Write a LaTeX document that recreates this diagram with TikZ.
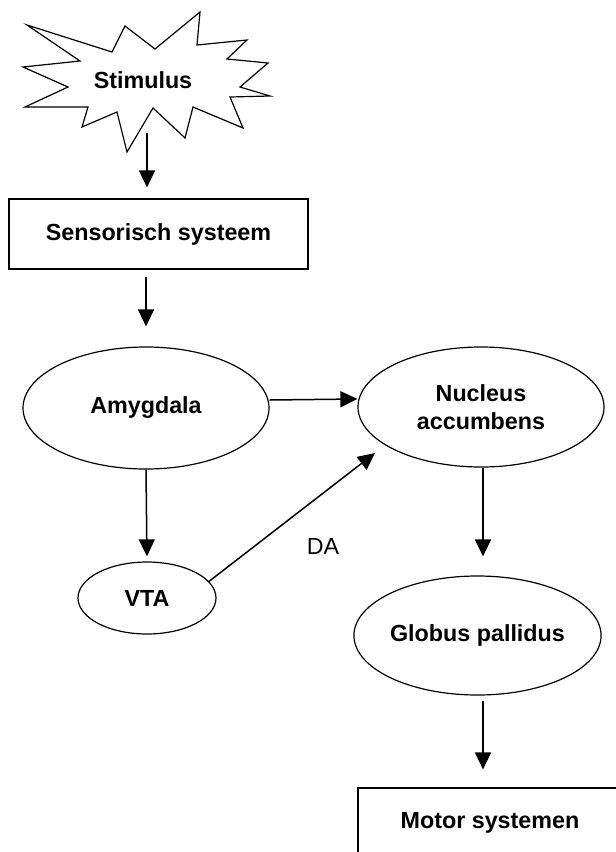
\documentclass[tikz,border=0pt]{standalone}
\usepackage{fontspec}
\setmainfont{Liberation Sans}
\usetikzlibrary{arrows.meta,shapes.geometric}

\begin{document}
\begin{tikzpicture}[x=0.5pt,y=-0.5pt,>={Triangle[length=8.5pt,width=8pt]},
  every node/.style={font=\bfseries\fontsize{11.65}{14}\selectfont},
  region/.style={ellipse,draw,line width=0.6pt,inner sep=0pt},
  system/.style={rectangle,draw,line width=0.6pt,inner sep=0pt},
  link/.style={->,line width=0.75pt}]
  \useasboundingbox (0,0) rectangle (616,852);
  \clip (0,0) rectangle (616,852);

  % starburst
  \draw[line width=0.6pt] (27,25) -- (112,52) -- (125,26) -- (155,49) -- (200,12) -- (197,45)
    -- (247,40) -- (227,59) -- (268,63) -- (240,87) -- (270,96) -- (230,97) -- (243,128)
    -- (193,107) -- (185,138) -- (153,108) -- (127,152) -- (117,112) -- (82,127)
    -- (88,107) -- (25,107) -- (68,87) -- (23,67) -- (80,61) -- cycle;
  \node (stim) at (143,80) {Stimulus};
  \coordinate (stimout) at (147,133);

  \node [system, minimum width=149.5pt, minimum height=35pt] (sens) at (158.5,234) {Sensorisch systeem};
  \node [region, minimum width=123pt, minimum height=61pt] (amyg) at (146,408) {Amygdala};
  \node [region, minimum width=123pt, minimum height=60pt, align=center] (nacc) at (481,407) {Nucleus\\accumbens};
  \node [region, minimum width=69pt, minimum height=36pt] (vta) at (147,598) {VTA};
  \node [region, minimum width=119.5pt, minimum height=59.5pt] (gp) at (477.5,635.5) {Globus pallidus};
  \node [system, minimum width=132pt, minimum height=35pt] (motor) at (490,823) {Motor systemen};
  \coordinate (datip) at (375,453);
  \node [font=\fontsize{11.65}{14}\selectfont] (da) at (323,546) {DA};

  \draw[link, shorten >=5.5pt] (stimout) -- (stimout |- sens.north);
  \draw[link, shorten <=3.5pt, shorten >=10pt] (sens.south -| amyg.north) -- (amyg.north);
  \draw[link] ([yshift=4pt]amyg.east) -- ([yshift=4pt]nacc.west);
  \draw[link, shorten >=2.5pt] (amyg.south) -- (vta.north);
  \draw[link, shorten >=9.5pt] ([xshift=1pt]nacc.south) -- ([xshift=1pt]nacc.south |- gp.north);
  \draw[link, shorten <=2.5pt, shorten >=9pt] ([xshift=2.75pt]gp.south) -- ([xshift=2.75pt]gp.south |- motor.north);
  \draw[link] (vta.15) -- (datip);
\end{tikzpicture}
\end{document}
